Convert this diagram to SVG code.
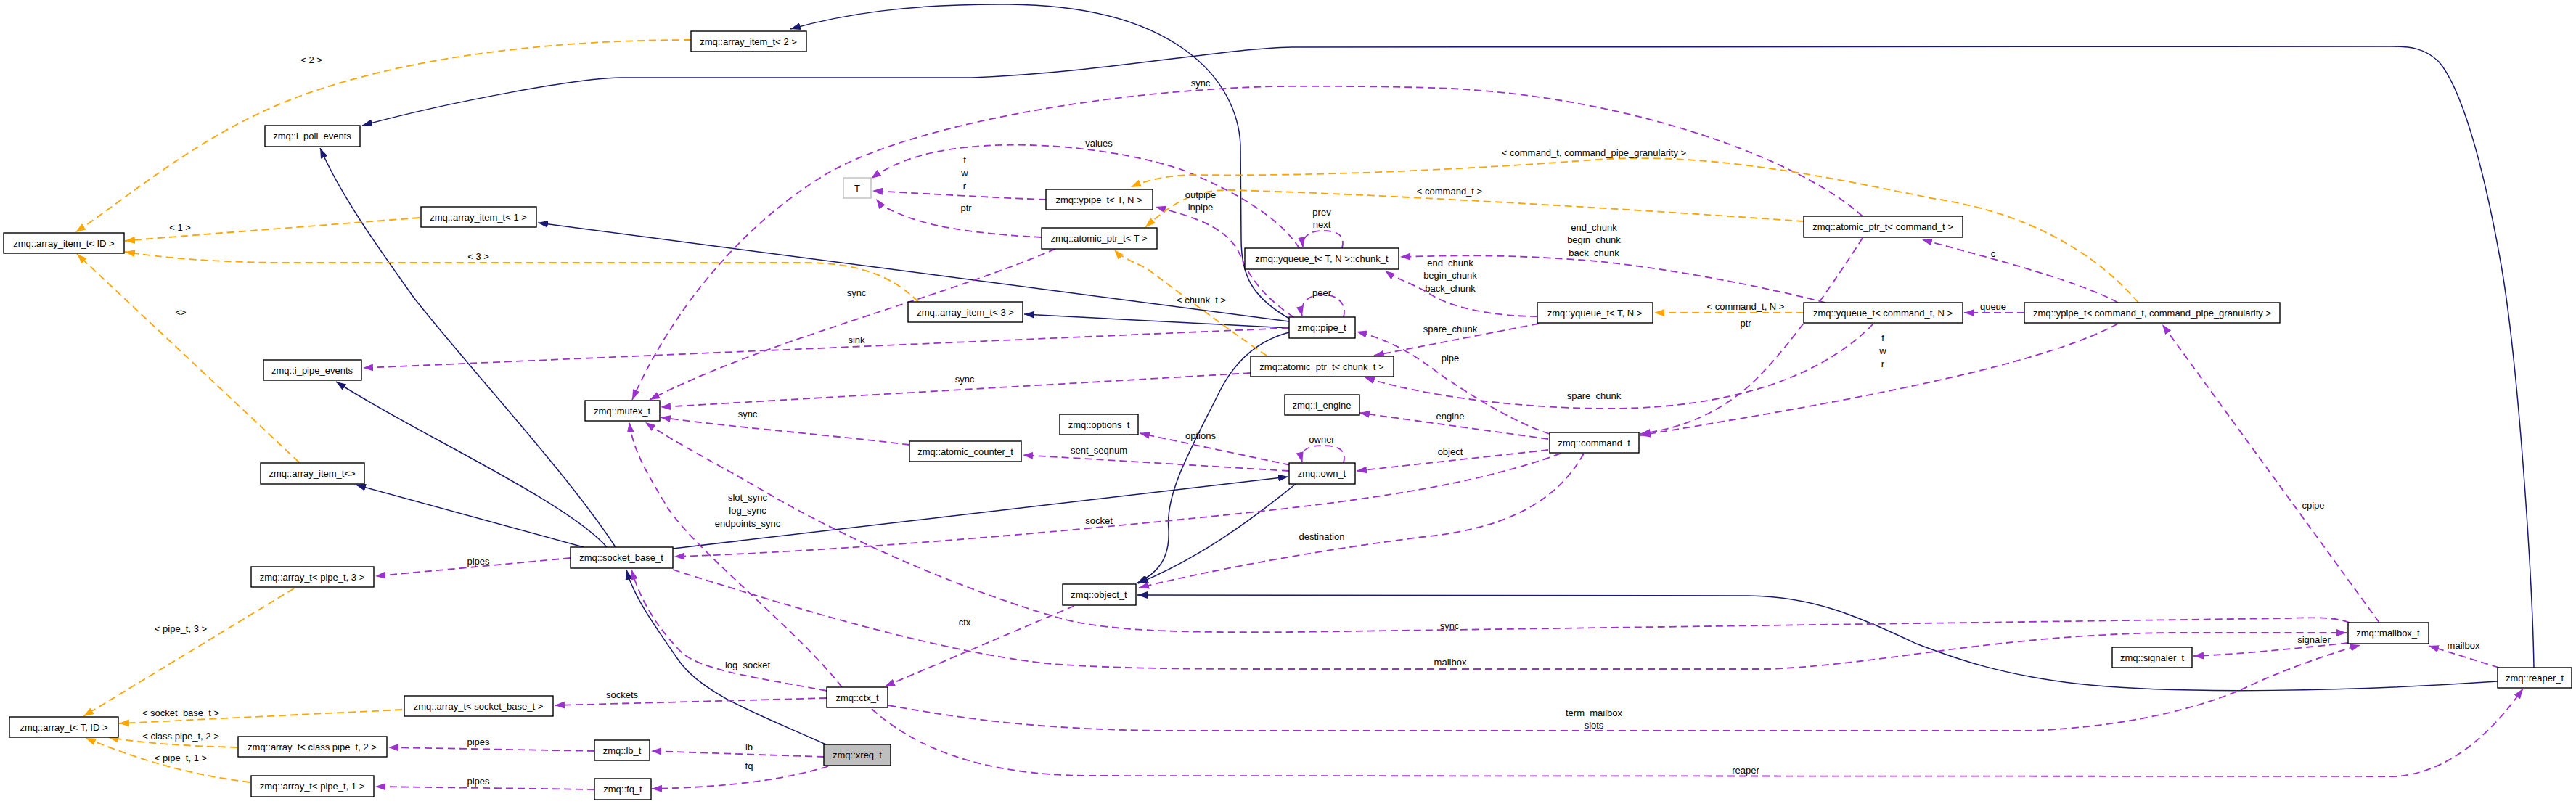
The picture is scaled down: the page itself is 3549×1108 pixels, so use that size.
<svg xmlns="http://www.w3.org/2000/svg" width="3549" height="1108" viewBox="0 0 3549 1108">
<style>
text{font-family:"Liberation Sans",Arial,sans-serif;font-size:13px;text-anchor:middle;fill:#000}
.node rect{fill:#fff;stroke:#000;stroke-width:1.4}
.inh{fill:none;stroke:#191970;stroke-width:1.5;marker-end:url(#mn)}
.use{fill:none;stroke:#9a32cd;stroke-width:1.8;stroke-dasharray:10,6;marker-end:url(#mp)}
.tpl{fill:none;stroke:#ffa500;stroke-width:1.8;stroke-dasharray:10,6;marker-end:url(#mo)}
</style>
<defs>
<marker id="mn" viewBox="0 0 14 10" refX="14" refY="5" markerWidth="14" markerHeight="10" markerUnits="userSpaceOnUse" orient="auto"><path d="M0,0 L14,5 L0,10 z" fill="#191970"/></marker>
<marker id="mp" viewBox="0 0 14 10" refX="14" refY="5" markerWidth="14" markerHeight="10" markerUnits="userSpaceOnUse" orient="auto"><path d="M0,0 L14,5 L0,10 z" fill="#9a32cd"/></marker>
<marker id="mo" viewBox="0 0 14 10" refX="14" refY="5" markerWidth="14" markerHeight="10" markerUnits="userSpaceOnUse" orient="auto"><path d="M0,0 L14,5 L0,10 z" fill="#ffa500"/></marker>
</defs>
<rect width="3549" height="1108" fill="#fff"/>
<g id="edges">
<path class="inh" d="M3491,920 C3489,800 3470,500 3445,360 C3420,220 3390,120 3360,85 C3340,66 3320,64 3295,64 L1780,65 C1680,67 1520,100 1339,107 L855,107 C800,107 620,140 499,173"/>
<path class="inh" d="M848,754 C780,650 640,500 570,410 C520,340 470,270 441,204"/>
<path class="inh" d="M836,754 C780,690 560,590 463,526"/>
<path class="inh" d="M804,754 L490,668"/>
<path class="inh" d="M927,756 L1775,657"/>
<path class="inh" d="M1140,1027 C1060,990 970,960 935,910 C900,860 872,820 863,785"/>
<path class="inh" d="M1776,443 L741,307"/>
<path class="inh" d="M1776,452 L1411,433"/>
<path class="inh" d="M1778,440 C1725,410 1710,380 1710,330 L1709,200 C1705,110 1620,8 1390,6 C1250,5 1160,20 1089,40"/>
<path class="inh" d="M1776,458 C1730,470 1700,500 1680,540 C1640,620 1605,680 1610,730 C1612,770 1595,790 1566,804"/>
<path class="inh" d="M1785,667 C1720,720 1650,770 1568,804"/>
<path class="inh" d="M3441,939 C3250,952 3000,958 2860,942 C2760,930 2700,910 2640,887 C2560,850 2500,822 2409,821 L1567,820"/>

<path class="use" d="M1776,452 L500,507"/>
<path class="use" d="M1782,437 C1750,415 1725,390 1710,355 C1695,315 1650,300 1592,285"/>
<path class="use" d="M1851,437 C1856,418 1842,406 1822,406 C1802,406 1790,418 1794,436"/>
<path class="use" d="M1849,342 C1854,323 1840,318 1823,318 C1806,318 1793,325 1795,341"/>
<path class="use" d="M1851,638 C1856,619 1842,614 1822,614 C1802,614 1790,620 1794,637"/>
<path class="use" d="M1790,342 C1770,310 1720,270 1626,233 C1540,205 1430,196 1356,201 C1290,205 1240,218 1200,246"/>
<path class="use" d="M1441,275 C1380,273 1260,266 1202,263"/>
<path class="use" d="M1435,327 C1340,322 1280,312 1240,295 C1220,287 1213,282 1207,274"/>
<path class="use" d="M1454,343 C1300,410 1050,470 895,551"/>
<path class="use" d="M2566,298 C2480,220 2250,135 2000,122 C1900,118 1800,119 1760,119 C1500,125 1230,180 1130,245 C1010,320 920,440 871,551"/>
<path class="use" d="M2118,436 C2060,436 2000,425 1970,405 C1945,390 1925,385 1908,373"/>
<path class="use" d="M2120,446 L1893,490"/>
<path class="use" d="M2515,417 C2430,395 2300,370 2200,360 C2080,350 2000,352 1929,354"/>
<path class="use" d="M2581,446 C2530,500 2420,562 2220,563 C2070,563 1940,540 1880,520"/>
<path class="use" d="M2566,328 C2520,400 2450,500 2400,540 C2350,580 2300,592 2260,598"/>
<path class="use" d="M2918,446 C2800,510 2500,560 2260,600"/>
<path class="use" d="M2135,598 C2080,580 2020,540 1990,520 C1950,490 1920,470 1869,457"/>
<path class="use" d="M2133,605 L1873,569"/>
<path class="use" d="M2133,620 L1869,649"/>
<path class="use" d="M2182,625 C2140,700 2060,730 1960,740 C1800,760 1650,790 1569,810"/>
<path class="use" d="M2150,625 C2000,680 1800,700 1500,728 C1200,756 1000,765 929,767"/>
<path class="use" d="M1778,641 L1570,597"/>
<path class="use" d="M1776,649 L1409,627"/>
<path class="use" d="M1253,613 C1150,600 1000,588 910,575"/>
<path class="use" d="M1723,514 L910,561"/>
<path class="use" d="M786,769 L517,794"/>
<path class="use" d="M927,785 C1100,840 1300,900 1450,915 C1550,922 1650,922 1780,922 L2437,922 C2600,915 2750,875 2988,872 L3233,872"/>
<path class="use" d="M3237,858 C3215,850 3190,851 3150,852 L1780,871 C1620,872 1520,870 1454,850 C1350,820 1200,760 1070,687 C990,640 930,610 889,582"/>
<path class="use" d="M3235,886 C3150,895 3080,902 3022,904"/>
<path class="use" d="M3443,920 L3346,890"/>
<path class="use" d="M3278,858 L2979,447"/>
<path class="use" d="M1224,972 C1350,995 1450,1005 1600,1007 L2800,1007 C2950,1000 3050,970 3110,940 C3180,910 3230,895 3252,889"/>
<path class="use" d="M1201,977 C1260,1030 1350,1068 1500,1069 L3300,1070 C3380,1065 3440,1000 3476,949"/>
<path class="use" d="M1160,947 C1100,870 960,760 920,700 C890,650 872,620 867,582"/>
<path class="use" d="M1139,952 C1050,935 970,925 940,900 C900,860 880,820 870,785"/>
<path class="use" d="M1139,962 L764,972"/>
<path class="use" d="M1480,835 L1219,946"/>
<path class="use" d="M1135,1043 L897,1035"/>
<path class="use" d="M1141,1056 C1080,1075 1000,1085 898,1087"/>
<path class="use" d="M819,1035 L535,1030"/>
<path class="use" d="M819,1088 L517,1084"/>
<path class="use" d="M2789,431 L2706,431"/>
<path class="use" d="M2918,417 C2860,385 2720,350 2648,330"/>

<path class="tpl" d="M578,300 C450,310 250,325 172,332"/>
<path class="tpl" d="M952,55 C750,55 560,80 420,130 C280,180 180,270 104,320"/>
<path class="tpl" d="M1265,416 C1230,380 1180,362 1110,362 L400,362 C300,362 220,355 172,347"/>
<path class="tpl" d="M412,637 L106,350"/>
<path class="tpl" d="M405,811 L115,987"/>
<path class="tpl" d="M554,978 L164,997"/>
<path class="tpl" d="M327,1030 C260,1028 200,1025 149,1016"/>
<path class="tpl" d="M344,1078 C280,1070 210,1055 118,1017"/>
<path class="tpl" d="M2946,417 C2880,340 2780,290 2660,273 C2500,240 2350,210 2200,220 C2000,235 1800,243 1650,241 C1610,241 1580,248 1558,258"/>
<path class="tpl" d="M2485,305 C2200,285 1900,268 1700,262 C1640,260 1610,285 1578,313"/>
<path class="tpl" d="M1745,490 C1700,460 1620,400 1580,370 C1560,360 1545,355 1535,344"/>
<path class="tpl" d="M2485,431 L2279,431"/>

<text x="429" y="87">&lt; 2 &gt;</text>
<text x="248" y="318">&lt; 1 &gt;</text>
<text x="659" y="358">&lt; 3 &gt;</text>
<text x="249" y="435">&lt;&gt;</text>
<text x="659" y="778">pipes</text>
<text x="249" y="871">&lt; pipe_t, 3 &gt;</text>
<text x="857" y="962">sockets</text>
<text x="249" y="987">&lt; socket_base_t &gt;</text>
<text x="249" y="1019">&lt; class pipe_t, 2 &gt;</text>
<text x="659" y="1027">pipes</text>
<text x="249" y="1049">&lt; pipe_t, 1 &gt;</text>
<text x="659" y="1081">pipes</text>
<text x="1654" y="119">sync</text>
<text x="1514" y="202">values</text>
<text x="1329" y="225">f</text>
<text x="1329" y="243">w</text>
<text x="1329" y="261">r</text>
<text x="1331" y="291">ptr</text>
<text x="1654" y="273">outpipe</text>
<text x="1654" y="290">inpipe</text>
<text x="1180" y="408">sync</text>
<text x="1655" y="418">&lt; chunk_t &gt;</text>
<text x="1180" y="473">sink</text>
<text x="1329" y="527">sync</text>
<text x="1030" y="575">sync</text>
<text x="1654" y="605">options</text>
<text x="1514" y="625">sent_seqnum</text>
<text x="1030" y="690">slot_sync</text>
<text x="1030" y="708">log_sync</text>
<text x="1030" y="726">endpoints_sync</text>
<text x="1514" y="722">socket</text>
<text x="1329" y="862">ctx</text>
<text x="1030" y="921">log_socket</text>
<text x="1032" y="1034">lb</text>
<text x="1032" y="1060">fq</text>
<text x="2196" y="215">&lt; command_t, command_pipe_granularity &gt;</text>
<text x="1997" y="268">&lt; command_t &gt;</text>
<text x="1821" y="297">prev</text>
<text x="1821" y="314">next</text>
<text x="2196" y="318">end_chunk</text>
<text x="2196" y="335">begin_chunk</text>
<text x="2196" y="353">back_chunk</text>
<text x="1998" y="367">end_chunk</text>
<text x="1998" y="384">begin_chunk</text>
<text x="1998" y="402">back_chunk</text>
<text x="1821" y="408">peer</text>
<text x="1998" y="458">spare_chunk</text>
<text x="1998" y="498">pipe</text>
<text x="2405" y="427">&lt; command_t, N &gt;</text>
<text x="2405" y="450">ptr</text>
<text x="2594" y="470">f</text>
<text x="2594" y="488">w</text>
<text x="2594" y="506">r</text>
<text x="2196" y="550">spare_chunk</text>
<text x="1998" y="578">engine</text>
<text x="1821" y="610">owner</text>
<text x="1998" y="627">object</text>
<text x="1821" y="744">destination</text>
<text x="1997" y="867">sync</text>
<text x="1998" y="917">mailbox</text>
<text x="2196" y="987">term_mailbox</text>
<text x="2196" y="1004">slots</text>
<text x="2405" y="1066">reaper</text>
<text x="2746" y="354">c</text>
<text x="2746" y="427">queue</text>
<text x="3187" y="701">cpipe</text>
<text x="3188" y="886">signaler</text>
<text x="3394" y="894">mailbox</text>
</g>
<g id="n_array_item_ID" class="node"><rect x="5" y="321" width="166" height="28"/><text x="88" y="340">zmq::array_item_t&lt; ID &gt;</text></g>
<g id="n_i_poll_events" class="node"><rect x="365" y="173" width="131" height="29"/><text x="430" y="192">zmq::i_poll_events</text></g>
<g id="n_array_item_1" class="node"><rect x="580" y="285" width="159" height="28"/><text x="659" y="304">zmq::array_item_t&lt; 1 &gt;</text></g>
<g id="n_array_item_2" class="node"><rect x="952" y="43" width="159" height="28"/><text x="1031" y="62">zmq::array_item_t&lt; 2 &gt;</text></g>
<g id="n_i_pipe_events" class="node"><rect x="363" y="496" width="135" height="28"/><text x="430" y="515">zmq::i_pipe_events</text></g>
<g id="n_array_item_empty" class="node"><rect x="359" y="638" width="143" height="29"/><text x="430" y="657">zmq::array_item_t&lt;&gt;</text></g>
<g id="n_mutex" class="node"><rect x="806" y="552" width="103" height="28"/><text x="857" y="571">zmq::mutex_t</text></g>
<g id="n_socket_base" class="node"><rect x="786" y="754" width="141" height="29"/><text x="856" y="773">zmq::socket_base_t</text></g>
<g id="n_array_pipe3" class="node"><rect x="346" y="781" width="169" height="28"/><text x="430" y="800">zmq::array_t&lt; pipe_t, 3 &gt;</text></g>
<g id="n_array_TID" class="node"><rect x="13" y="988" width="150" height="28"/><text x="88" y="1007">zmq::array_t&lt; T, ID &gt;</text></g>
<g id="n_array_socket" class="node"><rect x="557" y="959" width="205" height="28"/><text x="659" y="978">zmq::array_t&lt; socket_base_t &gt;</text></g>
<g id="n_array_cpipe2" class="node"><rect x="328" y="1015" width="205" height="28"/><text x="430" y="1034">zmq::array_t&lt; class pipe_t, 2 &gt;</text></g>
<g id="n_array_pipe1" class="node"><rect x="346" y="1069" width="169" height="29"/><text x="430" y="1088">zmq::array_t&lt; pipe_t, 1 &gt;</text></g>
<g id="n_lb" class="node"><rect x="819" y="1020" width="76" height="28"/><text x="857" y="1039">zmq::lb_t</text></g>
<g id="n_fq" class="node"><rect x="819" y="1073" width="78" height="29"/><text x="858" y="1092">zmq::fq_t</text></g>
<g id="n_T" class="node"><rect x="1162" y="245" width="38" height="28" style="stroke:#bfbfbf"/><text x="1181" y="264">T</text></g>
<g id="n_ypipe_TN" class="node"><rect x="1441" y="261" width="147" height="28"/><text x="1514" y="280">zmq::ypipe_t&lt; T, N &gt;</text></g>
<g id="n_atomic_ptr_T" class="node"><rect x="1435" y="314" width="159" height="29"/><text x="1514" y="333">zmq::atomic_ptr_t&lt; T &gt;</text></g>
<g id="n_chunk" class="node"><rect x="1715" y="342" width="212" height="29"/><text x="1821" y="361">zmq::yqueue_t&lt; T, N &gt;::chunk_t</text></g>
<g id="n_array_item_3" class="node"><rect x="1251" y="416" width="158" height="28"/><text x="1330" y="435">zmq::array_item_t&lt; 3 &gt;</text></g>
<g id="n_atomic_counter" class="node"><rect x="1253" y="608" width="154" height="28"/><text x="1330" y="627">zmq::atomic_counter_t</text></g>
<g id="n_options" class="node"><rect x="1460" y="571" width="108" height="28"/><text x="1514" y="590">zmq::options_t</text></g>
<g id="n_pipe" class="node"><rect x="1776" y="437" width="91" height="29"/><text x="1821" y="456">zmq::pipe_t</text></g>
<g id="n_atomic_ptr_chunk" class="node"><rect x="1723" y="491" width="197" height="28"/><text x="1821" y="510">zmq::atomic_ptr_t&lt; chunk_t &gt;</text></g>
<g id="n_i_engine" class="node"><rect x="1770" y="544" width="103" height="28"/><text x="1821" y="563">zmq::i_engine</text></g>
<g id="n_own" class="node"><rect x="1776" y="638" width="91" height="29"/><text x="1821" y="657">zmq::own_t</text></g>
<g id="n_object" class="node"><rect x="1464" y="805" width="101" height="29"/><text x="1514" y="824">zmq::object_t</text></g>
<g id="n_ctx" class="node"><rect x="1139" y="947" width="84" height="28"/><text x="1181" y="966">zmq::ctx_t</text></g>
<g id="n_xreq" class="node"><rect x="1135" y="1026" width="92" height="29" style="fill:#bfbfbf"/><text x="1181" y="1045">zmq::xreq_t</text></g>
<g id="n_yqueue_TN" class="node"><rect x="2118" y="417" width="159" height="28"/><text x="2197" y="436">zmq::yqueue_t&lt; T, N &gt;</text></g>
<g id="n_command" class="node"><rect x="2135" y="596" width="123" height="28"/><text x="2196" y="615">zmq::command_t</text></g>
<g id="n_atomic_ptr_cmd" class="node"><rect x="2485" y="298" width="219" height="29"/><text x="2594" y="317">zmq::atomic_ptr_t&lt; command_t &gt;</text></g>
<g id="n_yqueue_cmd" class="node"><rect x="2485" y="417" width="219" height="28"/><text x="2594" y="436">zmq::yqueue_t&lt; command_t, N &gt;</text></g>
<g id="n_ypipe_cmd" class="node"><rect x="2789" y="417" width="352" height="28"/><text x="2965" y="436">zmq::ypipe_t&lt; command_t, command_pipe_granularity &gt;</text></g>
<g id="n_mailbox" class="node"><rect x="3235" y="858" width="111" height="29"/><text x="3290" y="877">zmq::mailbox_t</text></g>
<g id="n_signaler" class="node"><rect x="2910" y="892" width="110" height="28"/><text x="2965" y="911">zmq::signaler_t</text></g>
<g id="n_reaper" class="node"><rect x="3441" y="920" width="102" height="28"/><text x="3492" y="939">zmq::reaper_t</text></g>
</svg>
